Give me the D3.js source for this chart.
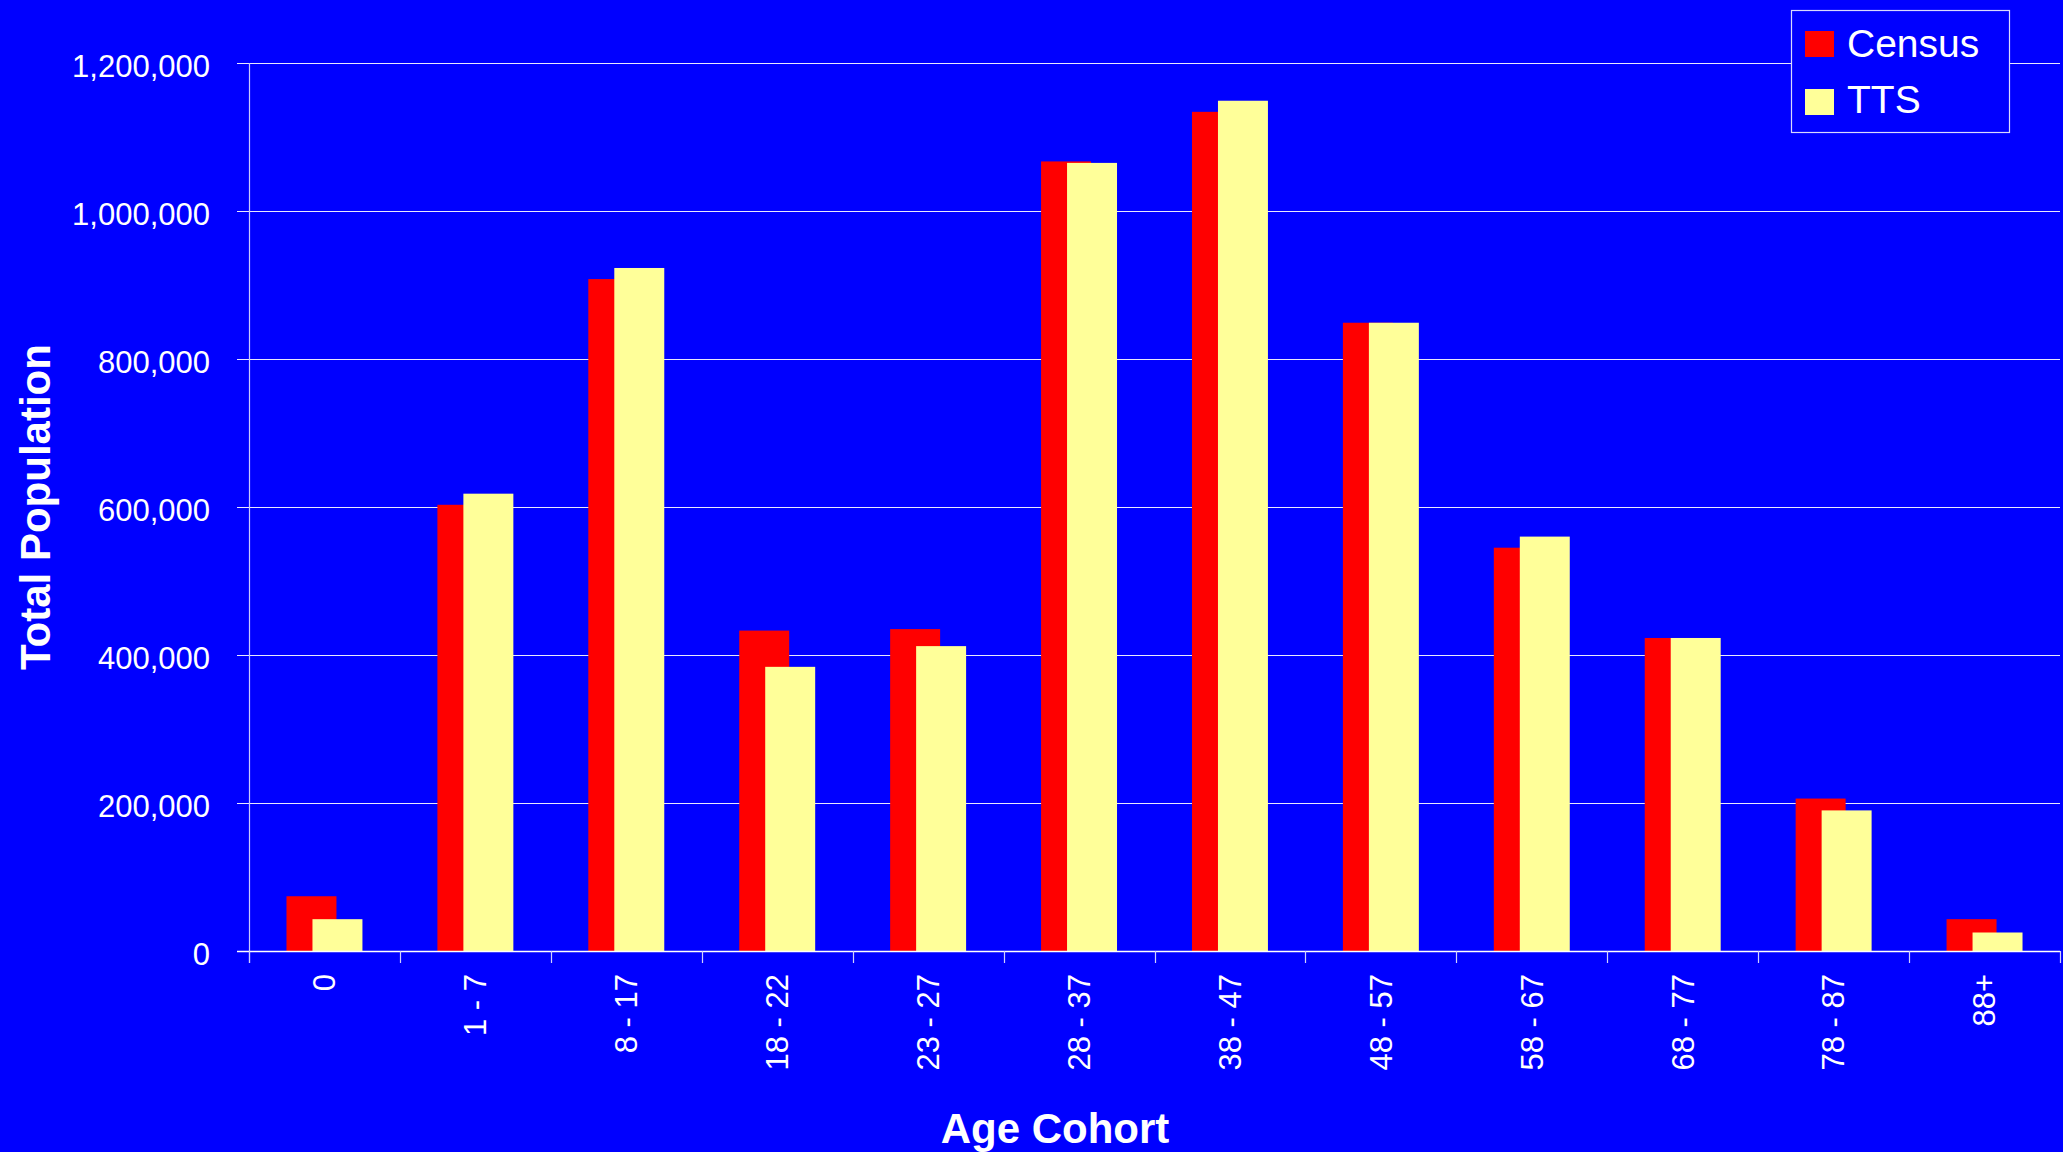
<!DOCTYPE html>
<html>
<head>
<meta charset="utf-8">
<script src="https://cdn.jsdelivr.net/npm/d3@7"></script>
<style>
html,body{margin:0;padding:0;background:#0000ff;overflow:hidden;}
svg{display:block;}
text{font-family:"Liberation Sans",Arial,sans-serif;fill:#ffffff;}
</style>
</head>
<body>
<script>
const categories = ["0","1 - 7","8 - 17","18 - 22","23 - 27","28 - 37","38 - 47","48 - 57","58 - 67","68 - 77","78 - 87","88+"];
const census = [74000, 603000, 908000, 433000, 435000, 1067000, 1134000, 849000, 545000, 423000, 206000, 43000];
const tts = [43000, 618000, 923000, 384000, 412000, 1065000, 1149000, 849000, 560000, 423000, 190000, 25000];
const yTicks = [0, 200000, 400000, 600000, 800000, 1000000, 1200000];
const seriesNames = ["Census", "TTS"];
const seriesColors = ["#ff0000", "#ffff99"];

const W = 2063, H = 1152;
const pLeft = 249, pRight = 2060, pTop = 63, pBottom = 951;

const svg = d3.select("body").append("svg").attr("width", W).attr("height", H);
svg.append("rect").attr("width", W).attr("height", H).attr("fill", "#0000ff");

const x = d3.scaleBand().domain(categories).range([pLeft, pRight]).padding(0);
const y = d3.scaleLinear().domain([0, 1200000]).range([pBottom, pTop]);
const fmt = d3.format(",");

// gridlines
svg.append("g").selectAll("line").data(yTicks.filter(d => d > 0)).join("line")
  .attr("x1", pLeft - 12).attr("x2", pRight)
  .attr("y1", d => Math.round(y(d)) + 0.5).attr("y2", d => Math.round(y(d)) + 0.5)
  .attr("stroke", "#e8e8ff").attr("stroke-width", 1.2);

// y axis line
svg.append("line").attr("x1", pLeft + 0.5).attr("x2", pLeft + 0.5)
  .attr("y1", pTop).attr("y2", pBottom + 12)
  .attr("stroke", "#c8c8ff").attr("stroke-width", 1.2);

// y labels
svg.append("g").selectAll("text").data(yTicks).join("text")
  .attr("x", 210).attr("y", d => y(d) + 14)
  .attr("text-anchor", "end").attr("font-size", 31)
  .text(d => fmt(d));

// bars
const bw = x.bandwidth();
const barW = bw * 50 / 151;
const offsets = [-38 / 151 * bw, -12 / 151 * bw];
[census, tts].forEach((vals, si) => {
  svg.append("g").selectAll("rect").data(vals).join("rect")
    .attr("x", (d, i) => x(categories[i]) + bw / 2 + offsets[si])
    .attr("width", barW)
    .attr("y", d => y(d))
    .attr("height", d => y(0) - y(d))
    .attr("fill", seriesColors[si]);
});

// x axis line
svg.append("line").attr("x1", pLeft - 12).attr("x2", pRight)
  .attr("y1", pBottom + 0.5).attr("y2", pBottom + 0.5)
  .attr("stroke", "#ffffff").attr("stroke-width", 1.5);

// x ticks at band boundaries
const bounds = categories.map(c => x(c)).concat([pRight]);
svg.append("g").selectAll("line").data(bounds).join("line")
  .attr("x1", d => Math.round(d) + 0.5).attr("x2", d => Math.round(d) + 0.5)
  .attr("y1", pBottom).attr("y2", pBottom + 12)
  .attr("stroke", "#d0d0ff").attr("stroke-width", 1.2);

// x labels
svg.append("g").selectAll("text").data(categories).join("text")
  .attr("transform", d => `translate(${x(d) + bw / 2},974) rotate(-90)`)
  .attr("text-anchor", "end").attr("dy", "0.35em").attr("font-size", 31)
  .text(d => d);

// axis titles
svg.append("text")
  .attr("transform", `translate(50,${(pTop + pBottom) / 2}) rotate(-90)`)
  .attr("text-anchor", "middle").attr("font-size", 42).attr("font-weight", "bold")
  .text("Total Population");
svg.append("text")
  .attr("x", 1055).attr("y", 1143)
  .attr("text-anchor", "middle").attr("font-size", 42).attr("font-weight", "bold")
  .text("Age Cohort");

// legend
const lg = svg.append("g");
lg.append("rect").attr("x", 1791.5).attr("y", 10.5).attr("width", 218).attr("height", 122)
  .attr("fill", "#0000ff").attr("stroke", "#d8d8ff").attr("stroke-width", 1.2);
seriesNames.forEach((n, i) => {
  lg.append("rect").attr("x", 1805).attr("y", 31 + i * 58).attr("width", 29).attr("height", 26)
    .attr("fill", seriesColors[i]);
  lg.append("text").attr("x", 1847).attr("y", 57 + i * 56).attr("font-size", 39).text(n);
});
</script>
</body>
</html>
